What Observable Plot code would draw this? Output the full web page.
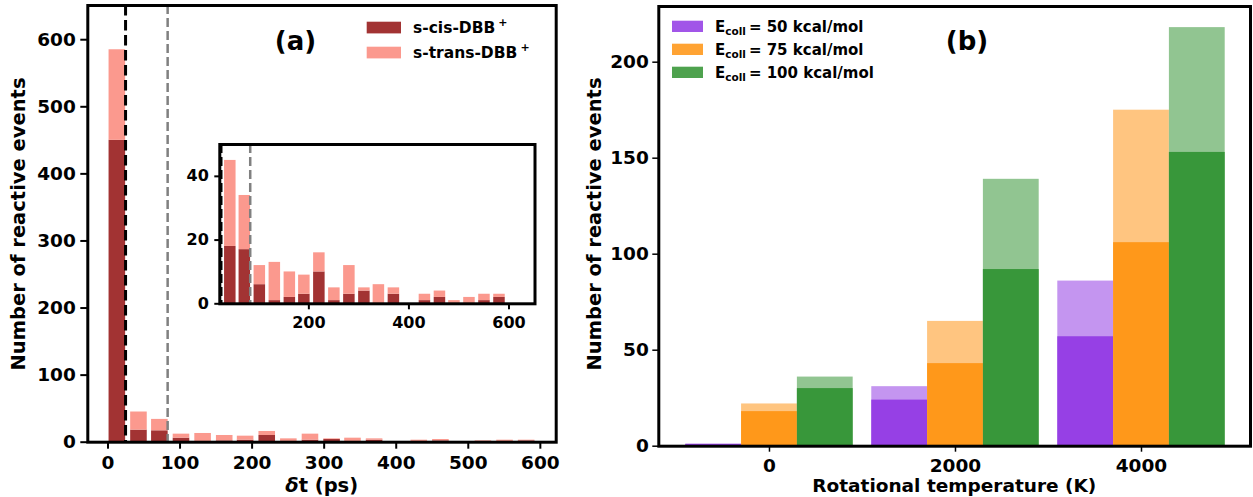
<!DOCTYPE html>
<html>
<head>
<meta charset="utf-8">
<script src="https://cdn.jsdelivr.net/npm/d3@7"></script>
<script src="https://cdn.jsdelivr.net/npm/@observablehq/plot@0.6"></script>
<style>
  html, body { margin: 0; padding: 0; background: #fff; }
  #root { position: relative; width: 1253px; height: 497px; overflow: hidden; background: #fff; }
  .layer { position: absolute; }
  .layer svg { display: block; max-width: none !important; }
</style>
</head>
<body>
<div id="root"></div>
<script>
// ---------------- Panel (a): histogram of delta t ----------------
const binCenters = [13, 43, 72, 102, 132, 162, 191, 221, 251, 281, 311, 340, 370, 400, 432, 462, 491, 521, 551, 581];
const cisCounts   = [450, 18, 17, 6, 1, 2, 3, 10, 1, 3, 4, 0, 3, 0, 1, 2, 0, 0, 1, 2];
const transCounts = [135, 27, 17, 6, 12, 8, 6, 6, 4, 9, 1, 6, 2, 0, 2, 2, 1, 2, 2, 1];
const cutoffs = [24.4, 82.8];
const seriesA = ["s-cis-DBB", "s-trans-DBB"];
const xTicksA = [0, 100, 200, 300, 400, 500, 600];
const yTicksA = [0, 100, 200, 300, 400, 500, 600];
const xTicksInset = [200, 400, 600];
const yTicksInset = [0, 20, 40];

// ---------------- Panel (b): grouped bars ----------------
const temps = [0, 2000, 4000];
const energies = [50, 75, 100];
const totalE50 = [1, 31, 86];
const darkE50  = [1, 24, 57];
const totalE75 = [22, 65, 175];
const darkE75  = [18, 43, 106];
const totalE100 = [36, 139, 218];
const darkE100  = [30, 92, 153];
const xTicksB = [0, 2000, 4000];
const yTicksB = [0, 50, 100, 150, 200];

const FONT = "DejaVu Sans";
const darkRed = "#a23333", lightRed = "#fb998e";
const barColors = {
  50:  {dark: "#9640e5", light: "#c495f0", legend: "#a155e8"},
  75:  {dark: "#ff981a", light: "#ffc580", legend: "#ffa333"},
  100: {dark: "#38973a", light: "#91c591", legend: "#4ea24e"}
};
const plain = d => String(d);

const root = document.getElementById("root");
function place(node, left, top) {
  const d = document.createElement("div");
  d.className = "layer";
  d.style.left = left + "px";
  d.style.top = top + "px";
  d.appendChild(node);
  root.appendChild(d);
}

const hist = binCenters.map((c, i) => ({c, cis: cisCounts[i], trans: transCounts[i]}));
const barW = 23;
const baseStyle = {fontFamily: FONT, fontWeight: "bold", background: "transparent", color: "black", overflow: "visible"};

// Main histogram
const plotA = Plot.plot({
  width: 570, height: 497,
  marginLeft: 87.3, marginRight: 14.3, marginTop: 5, marginBottom: 55.3,
  style: baseStyle,
  x: {domain: [-28, 622]},
  y: {domain: [0, 651]},
  marks: [
    Plot.rect(hist, {x1: d => d.c - barW / 2, x2: d => d.c + barW / 2, y1: 0, y2: "cis", fill: darkRed, inset: 0}),
    Plot.rect(hist, {x1: d => d.c - barW / 2, x2: d => d.c + barW / 2, y1: "cis", y2: d => d.cis + d.trans, fill: lightRed, inset: 0}),
    Plot.ruleX([cutoffs[0]], {stroke: "black", strokeWidth: 3, strokeDasharray: "10.5,4.5"}),
    Plot.ruleX([cutoffs[1]], {stroke: "#808080", strokeWidth: 2.5, strokeDasharray: "9,4"}),
    Plot.axisX({ticks: xTicksA, tickFormat: plain, tickSize: 7, tickPadding: 7, fontSize: 18.5, fontWeight: "bold", strokeWidth: 2, label: null}),
    Plot.axisY({ticks: yTicksA, tickFormat: plain, tickSize: 7, tickPadding: 5, fontSize: 18.5, fontWeight: "bold", strokeWidth: 2, label: null}),
    Plot.frame({stroke: "black", strokeWidth: 3})
  ]
});
place(plotA, 0, 0);

// Inset (clipped to its own domain)
const insetX = [22, 652], insetY = [0, 50];
const insetData = hist.filter(d => d.c + barW / 2 > insetX[0]).map(d => ({
  x1: Math.max(d.c - barW / 2, insetX[0]),
  x2: d.c + barW / 2,
  cisTop: Math.min(d.cis, insetY[1]),
  totTop: Math.min(d.cis + d.trans, insetY[1])
}));
const plotInset = Plot.plot({
  width: 380, height: 200,
  marginLeft: 49.3, marginRight: 15.5, marginTop: 5, marginBottom: 35.7,
  style: baseStyle,
  x: {domain: insetX},
  y: {domain: insetY},
  marks: [
    Plot.frame({fill: "white", stroke: "none"}),
    Plot.rect(insetData, {x1: "x1", x2: "x2", y1: 0, y2: "cisTop", fill: darkRed, inset: 0}),
    Plot.rect(insetData, {x1: "x1", x2: "x2", y1: "cisTop", y2: "totTop", fill: lightRed, inset: 0}),
    Plot.ruleX([cutoffs[0]], {stroke: "black", strokeWidth: 3, strokeDasharray: "9,4"}),
    Plot.ruleX([cutoffs[1]], {stroke: "#808080", strokeWidth: 2.5, strokeDasharray: "9,4"}),
    Plot.axisX({ticks: xTicksInset, tickFormat: plain, tickSize: 6, tickPadding: 7, fontSize: 16, fontWeight: "bold", strokeWidth: 2, label: null}),
    Plot.axisY({ticks: yTicksInset, tickFormat: plain, tickSize: 5, tickPadding: 6, fontSize: 16, fontWeight: "bold", strokeWidth: 2, label: null}),
    Plot.frame({stroke: "black", strokeWidth: 3})
  ]
});
place(plotInset, 170, 139);

// Panel (b)
const offsets = {50: -600, 75: 0, 100: 600};
const groupW = 600;
const totals = {50: totalE50, 75: totalE75, 100: totalE100};
const darks = {50: darkE50, 75: darkE75, 100: darkE100};
const tableB = [];
energies.forEach(e => temps.forEach((t, i) => tableB.push({e, t, total: totals[e][i], dark: darks[e][i]})));

const plotB = Plot.plot({
  width: 673, height: 497,
  marginLeft: 78.3, marginRight: 3, marginTop: 6, marginBottom: 51.3,
  style: baseStyle,
  x: {domain: [-1190, 5172]},
  y: {domain: [0, 229]},
  marks: [
    Plot.rect(tableB, {x1: d => d.t + offsets[d.e] - groupW / 2, x2: d => d.t + offsets[d.e] + groupW / 2, y1: 0, y2: "total", fill: d => barColors[d.e].light, inset: 0}),
    Plot.rect(tableB, {x1: d => d.t + offsets[d.e] - groupW / 2, x2: d => d.t + offsets[d.e] + groupW / 2, y1: 0, y2: "dark", fill: d => barColors[d.e].dark, inset: 0}),
    Plot.axisX({ticks: xTicksB, tickFormat: plain, tickSize: 6, tickPadding: 7, fontSize: 18.5, fontWeight: "bold", strokeWidth: 1.5, label: null}),
    Plot.axisY({ticks: yTicksB, tickFormat: plain, tickSize: 6, tickPadding: 4, fontSize: 18.5, fontWeight: "bold", strokeWidth: 1.5, label: null}),
    Plot.frame({stroke: "black", strokeWidth: 3})
  ]
});
place(plotB, 580, 0);

// ---------------- Text overlay: labels and legends ----------------
const NS = "http://www.w3.org/2000/svg";
const ov = document.createElementNS(NS, "svg");
ov.setAttribute("width", 1253);
ov.setAttribute("height", 497);
ov.setAttribute("font-family", FONT);
ov.setAttribute("font-weight", "bold");
ov.style.pointerEvents = "none";
function el(tag, attrs, parent) {
  const n = document.createElementNS(NS, tag);
  for (const k in attrs) n.setAttribute(k, attrs[k]);
  (parent || ov).appendChild(n);
  return n;
}
function txt(attrs, parts) {
  const t = el("text", attrs);
  parts.forEach(p => {
    const s = el("tspan", p.attrs || {}, t);
    s.textContent = p.text;
  });
  return t;
}

// axis labels
const yLabel = "Number of reactive events";
txt({transform: "translate(25,224) rotate(-90)", "text-anchor": "middle", "font-size": 19.5}, [{text: yLabel}]);
txt({transform: "translate(600.5,224) rotate(-90)", "text-anchor": "middle", "font-size": 19.5}, [{text: yLabel}]);
txt({x: 321.7, y: 491.5, "text-anchor": "middle", "font-size": 19.5}, [{text: "δ", attrs: {"font-style": "italic"}}, {text: "t (ps)"}]);
txt({x: 954.3, y: 492, "text-anchor": "middle", "font-size": 18.5}, [{text: "Rotational temperature (K)"}]);

// panel tags
txt({x: 295.5, y: 49.6, "text-anchor": "middle", "font-size": 26}, [{text: "(a)"}]);
txt({x: 967, y: 50, "text-anchor": "middle", "font-size": 26}, [{text: "(b)"}]);

// legend (a)
const legAColors = [darkRed, lightRed];
const legAy = [21.7, 46.7];
seriesA.forEach((s, i) => {
  el("rect", {x: 366.7, y: legAy[i], width: 34.3, height: 11.7, fill: legAColors[i]});
  txt({x: 413, y: legAy[i] + 11.4, "font-size": 15.5}, [{text: s}, {text: "+", attrs: {"font-size": 11, dx: 3, dy: -7}}]);
});

// legend (b)
const legBy = [20.7, 43.7, 66.7];
energies.forEach((e, i) => {
  el("rect", {x: 672, y: legBy[i], width: 31, height: 11.3, fill: barColors[e].legend});
  txt({x: 715, y: legBy[i] + 11.3, "font-size": 15}, [
    {text: "E"},
    {text: "coll", attrs: {"font-size": 10.5, dy: 2.5}},
    {text: "= " + e + " kcal/mol", attrs: {dx: 3, dy: -2.5}}
  ]);
});

place(ov, 0, 0);
</script>
</body>
</html>
